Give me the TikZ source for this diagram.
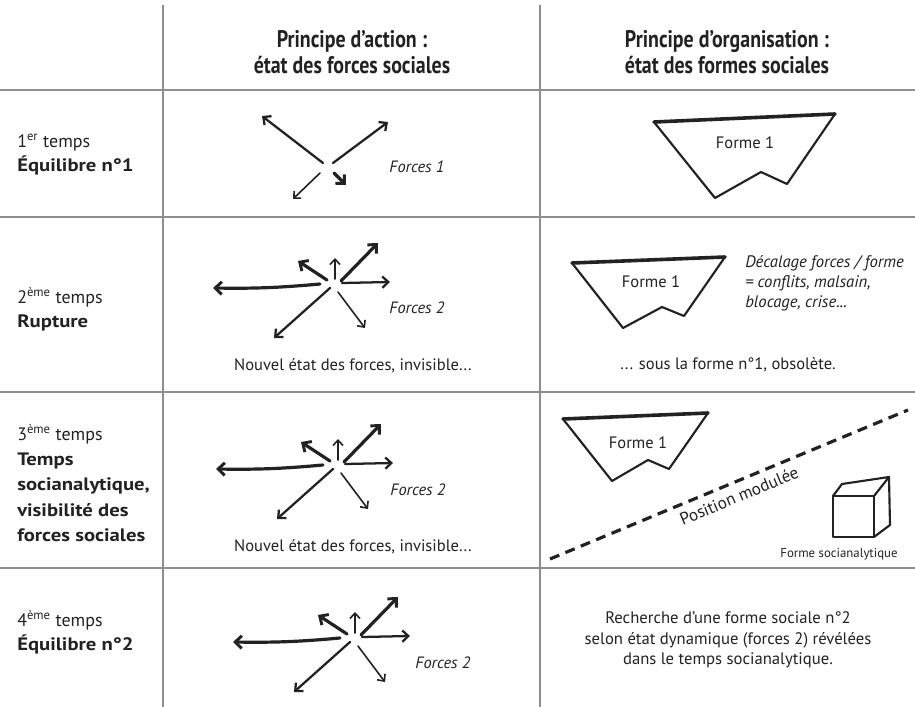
\documentclass[tikz,border=0pt]{standalone}
\usepackage{fontspec}
\setmainfont{PT Sans}
\newfontfamily\hdfont[FakeStretch=0.83]{PT Sans}
\newfontfamily\lbfont[FakeStretch=1.15]{PT Sans}
\usetikzlibrary{arrows.meta}
\definecolor{ink}{HTML}{222222}
\definecolor{rulecol}{HTML}{8E8E8E}
\newcommand{\lb}[1]{{\lbfont\bfseries #1}}
\tikzset{
  gridline/.style={draw=rulecol, line width=1.1pt},
  hd/.style={font=\hdfont\bfseries\fontsize{18}{19}\selectfont, align=center, text=ink, inner sep=0pt},
  lefttxt/.style={font=\fontsize{13.5}{18}\selectfont, align=left, anchor=west, text=ink, inner sep=0pt},
  body/.style={font=\fontsize{12.4}{14}\selectfont, text=ink, inner sep=0pt},
  itl/.style={font=\itshape\fontsize{12.3}{15}\selectfont, text=ink, inner sep=0pt},
  fthick/.style={draw=ink, line width=2.4pt, line cap=round, -{Straight Barb[length=5pt,width=9.5pt,line width=2.2pt]}},
  fmed/.style={draw=ink, line width=1.7pt, line cap=round, -{Straight Barb[length=4.5pt,width=8.5pt,line width=1.7pt]}},
  fthin/.style={draw=ink, line width=1.2pt, line cap=round, -{Straight Barb[length=4pt,width=7.5pt,line width=1.2pt]}},
  forme/.style={draw=ink, line width=1.6pt, line join=round, line cap=round},
  formetop/.style={draw=ink, line width=2.7pt, line cap=round},
  pics/forcestar/.style={code={
    \draw[fthick] (-15,2) to[bend left=3] (-122,6);
    \draw[fthick] (-8,-2) -- (-37,-21);
    \draw[fthin] (0,-3) -- (0,-24);
    \draw[fthick] (6,-1) -- (43,-39);
    \draw[fmed] (7,1) -- (55,0);
    \draw[fthin] (3,10) -- (30,46);
    \draw[fmed] (-5,6) -- (-61,56);
  }}
}
\begin{document}
\begin{tikzpicture}[x=0.75pt,y=-0.75pt]
\useasboundingbox (0,0) rectangle (915,707);
\fill[white] (0,0) rectangle (915,707);

% grid
\draw[gridline] (0,90) -- (915,90);
\draw[gridline] (0,217) -- (915,217);
\draw[gridline] (0,392) -- (915,392);
\draw[gridline] (0,568) -- (915,568);
\draw[gridline] (163,5) -- (163,707);
\draw[gridline] (540,5) -- (540,707);

% headers
\node[hd] (h1) at (352,52) {Principe d’action :\\état des forces sociales};
\node[hd] (h2) at (727,52) {Principe d’organisation :\\état des formes sociales};

% left column
\node[lefttxt] (t1) at (17,155) {1\textsuperscript{er} temps\\\lb{Équilibre n°1}};
\node[lefttxt] (t2) at (17,309) {2\textsuperscript{ème} temps\\\lb{Rupture}};
\node[lefttxt] (t3) at (17,483) {3\textsuperscript{ème} temps\\[1pt]\lb{Temps}\\[1pt]\lb{socianalytique,}\\[1pt]\lb{visibilité des}\\[1pt]\lb{forces sociales}};
\node[lefttxt] (t4) at (17,632) {4\textsuperscript{ème} temps\\\lb{Équilibre n°2}};

% row 1 forces
\draw[fmed] (323,163) -- (262,116);
\draw[fmed] (333,163) -- (388,122);
\draw[fthin] (320,173) -- (293,199);
\draw[fthick] (334,173) -- (346,185);
\node[itl] (f1) at (417,167) {Forces 1};

% row 1 form
\draw[forme] (835,114) -- (787,184) -- (761,172) -- (715,198) -- (654,122);
\draw[formetop] (654,122) -- (835,114);
\node[body] (fo1) at (745,143) {Forme 1};

% row 2
\pic at (335,282) {forcestar};
\node[itl] (f2) at (417,308) {Forces 2};
\node[body] (n2) at (353,366) {Nouvel état des forces, invisible...};
\draw[forme] (725,257) -- (684,316) -- (662,307) -- (623,328) -- (572,263);
\draw[formetop] (572,263) -- (725,257);
\node[body] (fo2) at (651,282) {Forme 1};
\node[itl, anchor=west, align=left, font=\itshape\fontsize{12.5}{15}\selectfont] (dec) at (745,283) {Décalage forces / forme\\= conflits, malsain,\\blocage, crise...};
\node[body] (obs) at (728,365) {... sous la forme n°1, obsolète.};

% row 3
\pic at (338,463) {forcestar};
\node[itl] (f3) at (418,490) {Forces 2};
\node[body] (n3) at (353,547) {Nouvel état des forces, invisible...};
\draw[forme] (708,413) -- (669,469) -- (648,460) -- (612,481) -- (563,419);
\draw[formetop] (563,419) -- (708,413);
\node[body] (fo3) at (638,443) {Forme 1};
\coordinate (ds) at (550,559);
\coordinate (de) at (908,410);
\draw[draw=ink, line width=2.4pt, dash pattern=on 7.5pt off 5pt] (ds) -- (de);
\node[body, font=\fontsize{12.8}{14}\selectfont, rotate=22.6] (pm) at (739,496) {Position modulée};
% cube
\draw[forme] (833,496) rectangle (874,537);
\draw[forme] (833,496) -- (842,484) -- (889,477) -- (874,496);
\draw[forme] (889,477) -- (890,525) -- (874,537);
\node[body, font=\fontsize{9.6}{10}\selectfont] (fs) at (839,554) {Forme socianalytique};

% row 4
\pic at (355,636) {forcestar};
\node[itl] (f4) at (443,663) {Forces 2};
\node[body, align=center, font=\fontsize{12.5}{15.5}\selectfont] (rech) at (728,640) {Recherche d’une forme sociale n°2\\selon état dynamique (forces 2) révélées\\dans le temps socianalytique.};
\end{tikzpicture}
\end{document}
